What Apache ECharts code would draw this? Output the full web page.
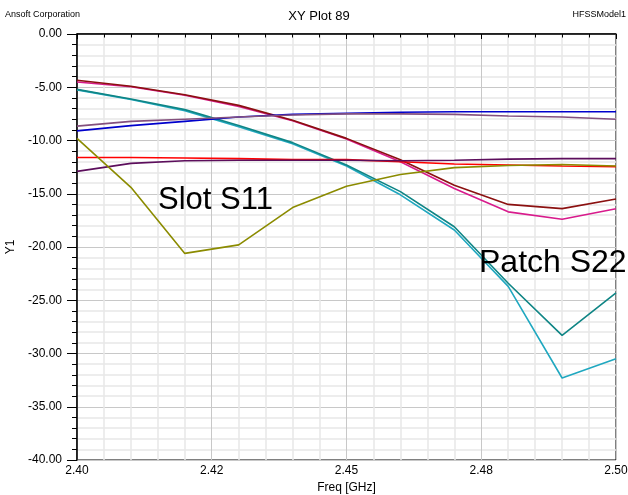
<!DOCTYPE html>
<html>
<head>
<meta charset="utf-8">
<script src="https://cdn.jsdelivr.net/npm/echarts@6/dist/echarts.min.js"></script>
<style>
html,body{margin:0;padding:0;background:#fff;}
#chart{width:628px;height:495px;}
</style>
</head>
<body>
<div id="chart"></div>
<script>
// Data
const freq = [2.40, 2.41, 2.42, 2.43, 2.44, 2.45, 2.46, 2.47, 2.48, 2.49, 2.50];
const xTickLabels = ["2.40", "2.42", "2.45", "2.48", "2.50"];
const seriesNames = ["S11 b", "S11 a", "S22 b", "S22 a", "S21 a", "S21 b", "S12 a", "S12 b", "S11 c"];
const magenta = [-4.5, -4.95, -5.75, -6.8, -8.15, -9.85, -12.0, -14.5, -16.7, -17.4, -16.4];
const brown   = [-4.35, -4.9, -5.7, -6.7, -8.1, -9.8, -11.8, -14.2, -16.0, -16.4, -15.5];
const cyan    = [-5.25, -6.15, -7.2, -8.7, -10.3, -12.4, -15.1, -18.4, -23.7, -32.3, -30.5];
const teal    = [-5.2, -6.1, -7.1, -8.6, -10.2, -12.3, -14.8, -18.1, -23.4, -28.3, -24.3];
const blue    = [-9.1, -8.6, -8.2, -7.8, -7.55, -7.45, -7.35, -7.3, -7.3, -7.3, -7.3];
const mauve   = [-8.65, -8.2, -8.0, -7.8, -7.6, -7.5, -7.5, -7.55, -7.7, -7.8, -8.0];
const red     = [-11.6, -11.6, -11.65, -11.7, -11.8, -11.8, -12.0, -12.2, -12.3, -12.4, -12.45];
const purple  = [-12.9, -12.15, -11.9, -11.85, -11.85, -11.85, -11.9, -11.85, -11.75, -11.7, -11.7];
const olive   = [-9.8, -14.4, -20.6, -19.8, -16.3, -14.3, -13.2, -12.55, -12.35, -12.25, -12.4];

const allSeries = [magenta, brown, cyan, teal, blue, mauve, red, purple, olive];
const colors = ['#D81B8C', '#8B1010', '#20A8C0', '#0F8585', '#0000CC', '#84507E', '#FF0000', '#5C0E5C', '#8B8B00'];

const FONT = '"Liberation Sans", Arial, sans-serif';
const chart = echarts.init(document.getElementById('chart'), null, {renderer: 'canvas'});

const option = {
  animation: false,
  backgroundColor: '#fff',
  grid: {left: 77, right: 12, top: 34, bottom: 35, containLabel: false, outerBoundsMode: 'none',
    show: true, borderColor: '#000', borderWidth: 1, backgroundColor: 'transparent'},
  xAxis: {
    type: 'value', min: 2.4, max: 2.5, interval: 0.025,
    name: 'Freq [GHz]', nameLocation: 'middle', nameGap: 21,
    nameTextStyle: {color: '#000', fontSize: 12, fontFamily: FONT},
    axisLine: {show: true, lineStyle: {color: '#000', width: 1.5}},
    axisTick: {show: true, length: 5, lineStyle: {color: '#000'}},
    minorTick: {show: true, splitNumber: 5, length: 3.5, lineStyle: {color: '#000'}},
    axisLabel: {color: '#000', fontSize: 12, fontFamily: FONT, margin: 5,
      formatter: function (v, i) { return xTickLabels[i] !== undefined ? xTickLabels[i] : ''; }},
    splitLine: {show: true, lineStyle: {color: '#c8c8c8', width: 1}},
    minorSplitLine: {show: true, lineStyle: {color: '#e8e8e8', width: 1.5}}
  },
  yAxis: {
    type: 'value', min: -40, max: 0, interval: 5,
    name: 'Y1', nameLocation: 'middle', nameGap: 58,
    nameTextStyle: {color: '#000', fontSize: 12, fontFamily: FONT},
    axisLine: {show: true, lineStyle: {color: '#000', width: 1.5}},
    axisTick: {show: true, length: 10, lineStyle: {color: '#000'}},
    minorTick: {show: true, splitNumber: 5, length: 5, lineStyle: {color: '#000'}},
    axisLabel: {color: '#000', fontSize: 12, fontFamily: FONT, margin: 15,
      formatter: function (v) { return v.toFixed(2); }},
    splitLine: {show: true, lineStyle: {color: '#c8c8c8', width: 1}},
    minorSplitLine: {show: true, lineStyle: {color: '#e8e8e8', width: 1.5}}
  },
  series: allSeries.map(function (arr, i) {
    return {
      name: seriesNames[i], type: 'line', symbol: 'none', clip: true,
      lineStyle: {color: colors[i], width: 1.6},
      data: freq.map(function (f, j) { return [f, arr[j]]; })
    };
  }),
  graphic: [
    {type: 'text', left: 5, top: 10, style: {text: 'Ansoft Corporation', font: '9px ' + FONT, fill: '#000'}},
    {type: 'text', right: 2, top: 10, style: {text: 'HFSSModel1', font: '9px ' + FONT, fill: '#000'}},
    {type: 'text', x: 319, y: 16, style: {text: 'XY Plot 89', font: '13px ' + FONT, fill: '#000', align: 'center', verticalAlign: 'middle'}},
    {type: 'text', x: 158, y: 200, z: 10, style: {text: 'Slot S11', font: '31px ' + FONT, fill: '#000', align: 'left', verticalAlign: 'middle'}},
    {type: 'text', x: 479, y: 263.5, z: 10, style: {text: 'Patch S22', font: '32px ' + FONT, fill: '#000', align: 'left', verticalAlign: 'middle'}}
  ]
};
chart.setOption(option);
</script>
</body>
</html>
